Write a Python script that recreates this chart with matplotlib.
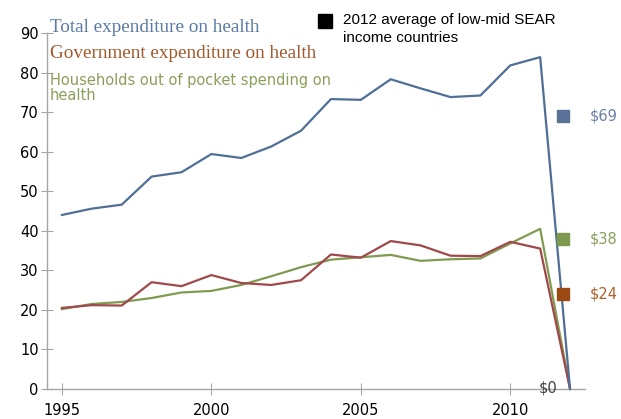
import matplotlib
matplotlib.use("Agg")
from matplotlib import pyplot as plt

# health spending per capita (US$)
years = list(range(1995, 2013))
total = [44.0, 45.6, 46.6, 53.7, 54.8, 59.4, 58.4, 61.3, 65.3, 73.3, 73.1, 78.3,
         76.0, 73.8, 74.2, 81.8, 83.9, 0]
government = [20.5, 21.2, 21.1, 27.0, 26.0, 28.8, 26.8, 26.3, 27.5, 34.0, 33.2, 37.4,
              36.3, 33.7, 33.6, 37.2, 35.5, 0]
households = [20.2, 21.5, 22.0, 23.0, 24.4, 24.8, 26.3, 28.5, 30.8, 32.7, 33.3, 33.9,
              32.4, 32.8, 33.0, 36.8, 40.5, 0]

# 2012 averages of low-mid SEAR income countries
avg_values = [69, 38, 24]
avg_labels = ["$69", "$38", "$24"]
avg_colors = ["#5B7298", "#7F9A4F", "#9C4A14"]
avg_text_colors = ["#6B82A8", "#8AA05A", "#B0602A"]

line_blue = "#4F6F97"
line_red = "#A0484A"
line_green = "#809B50"

fig = plt.figure(figsize=(6.21, 4.19), dpi=100)
ax = fig.add_axes([47/621, 30/419, (585-47)/621, (389-33)/419])

ax.plot(years, total, color=line_blue, lw=1.6, clip_on=False, zorder=3)
ax.plot(years, households, color=line_green, lw=1.6, clip_on=False, zorder=2)
ax.plot(years, government, color=line_red, lw=1.6, clip_on=False, zorder=2)

ax.set_xlim(1994.5, 2012.5)
ax.set_ylim(0, 90)
ax.set_xticks([1995, 2000, 2005, 2010])
ax.set_yticks(range(0, 91, 10))

for s in ["top", "right"]:
    ax.spines[s].set_visible(False)
for s in ["left", "bottom"]:
    ax.spines[s].set_color("#A6A6A6")
    ax.spines[s].set_linewidth(1.0)
ax.tick_params(axis="both", direction="inout", length=8, color="#A6A6A6",
               labelsize=10.5, labelcolor="black")
ax.tick_params(axis="x", pad=6)
ax.tick_params(axis="y", pad=2)

# averages as squares beside the lines
mx = 2011.76
for v, lab, c, tc in zip(avg_values, avg_labels, avg_colors, avg_text_colors):
    ax.plot([mx], [v], marker="s", ms=8.5, color=c, clip_on=False, zorder=4)
    ax.text(2012.65, v, lab, color=tc, fontsize=10.5, va="center", ha="left",
            family="DejaVu Sans", clip_on=False)
ax.text(2011.25, 0.3, "$0", color="#404040", fontsize=10.5, va="center", ha="center",
        family="DejaVu Sans")

# series labels
fig.text(50/621, 1 - 28/419, "Total expenditure on health", color="#5A7BA6",
         fontsize=13.8, family="Liberation Serif", va="center", ha="left")
fig.text(50/621, 1 - 53/419, "Government expenditure on health", color="#A4592C",
         fontsize=13.8, family="Liberation Serif", va="center", ha="left")
fig.text(50/621, 1 - 88/419, "Households out of pocket spending on\nhealth", color="#8AA05A",
         fontsize=10.5, family="DejaVu Sans", va="center", ha="left", linespacing=0.95)

# legend for the squares
fig.lines.append(plt.Line2D([325/621], [1 - 21/419], marker="s", ms=9.5, color="black",
                            transform=fig.transFigure))
fig.text(343/621, 1 - 29/419, "2012 average of low-mid SEAR\nincome countries",
         color="black", fontsize=11, family="Liberation Sans", va="center", ha="left",
         linespacing=1.35)

fig.savefig("out.png", dpi=100)
